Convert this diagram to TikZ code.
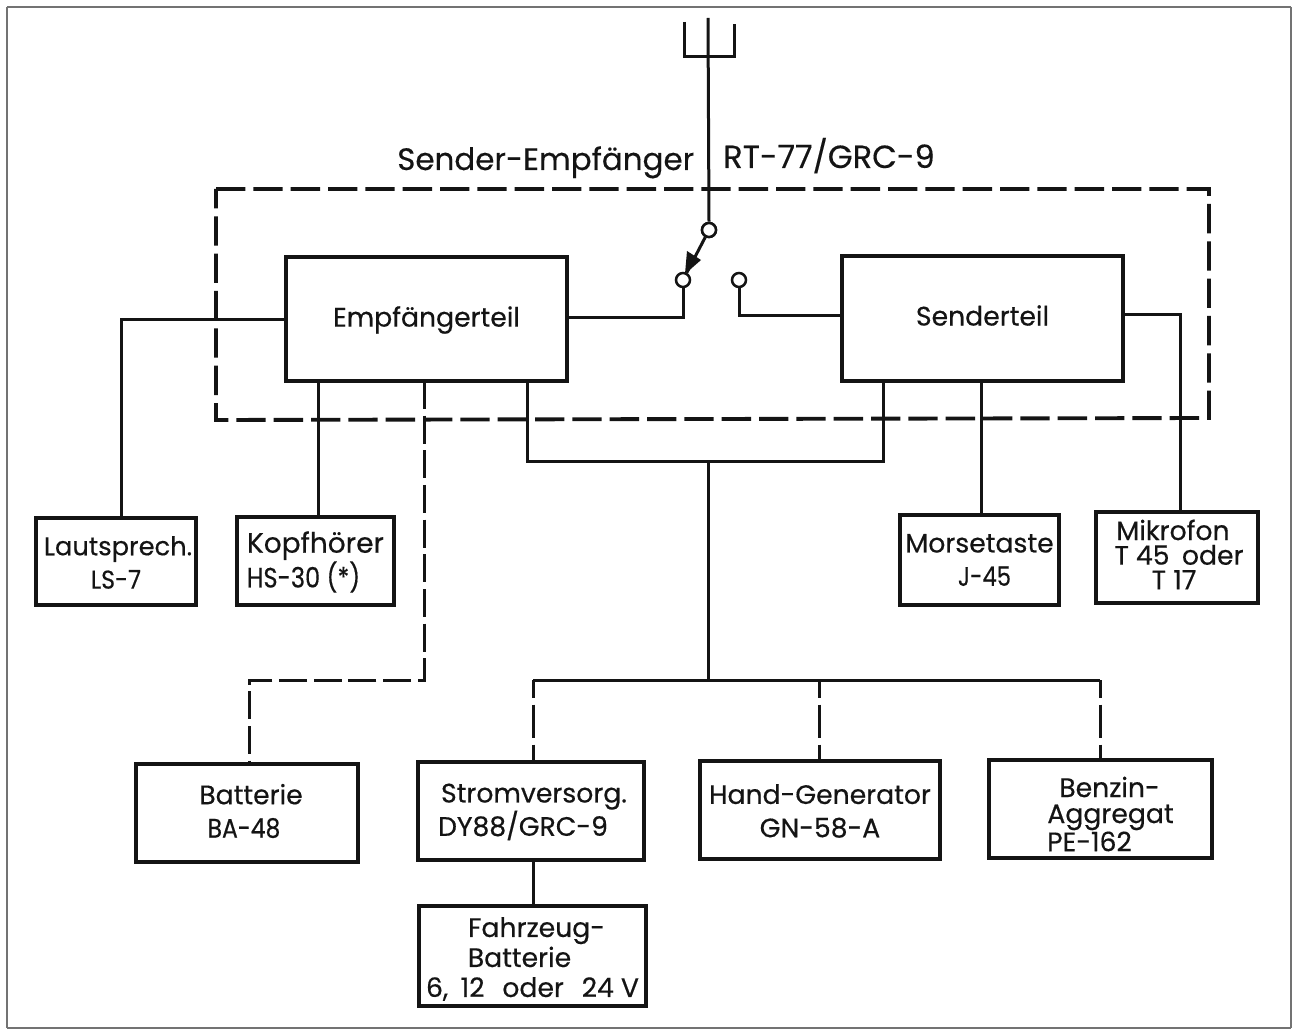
\documentclass[tikz,border=0pt]{standalone}
\usepackage{fontspec}
\setmainfont{Poppins}[FakeBold=0.4]
\definecolor{ink}{HTML}{141414}
\tikzset{
  px/.style={x=0.75pt,y=-0.75pt},
  wire/.style={draw=ink,line width=2.25pt},
  thinwire/.style={draw=ink,line width=2.25pt},
  dashwire/.style={draw=ink,line width=2.25pt,dash pattern=on 21pt off 5pt},
  stubdash/.style={draw=ink,line width=2.25pt,dash pattern=on 13.5pt off 5pt on 25pt off 5pt on 40pt off 0pt},
  bigdash/.style={draw=ink,line width=2.9pt,dash pattern=on 22pt off 6pt},
  box/.style={draw=ink,line width=3.1pt,fill=white,inner sep=0pt},
  lbl/.style={inner sep=0pt,text=ink},
  boxtext/.style={lbl,align=center,font=\fontsize{20}{25}\selectfont},
  term/.style={circle,draw=ink,line width=1.9pt,fill=white,minimum size=10.5pt,inner sep=0pt},
}
% name x1 y1 x2 y2 dy text-options text
\newcommand{\bx}[8]{%
  \pgfmathsetmacro{\bw}{(#4-#2)*0.75}\pgfmathsetmacro{\bh}{(#5-#3)*0.75}
  \node[box,minimum width=\bw pt,minimum height=\bh pt] (#1) at ({(#2+#4)/2},{(#3+#5)/2}) {};
  \node[boxtext,#7] (#1-t) at ({(#2+#4)/2},{(#3+#5)/2+#6}) {#8};}
% shift one line of text by #1 reference pixels
\newcommand{\sh}[2]{\mbox{\kern\dimexpr #1pt*3/2\relax #2}}
% narrow one line of text
\newcommand{\nar}[2]{\scalebox{#1}[1]{#2}}
\begin{document}
\begin{tikzpicture}[px]
\useasboundingbox (0,0) rectangle (1293,1030);
\fill[white] (0,0) rectangle (1293,1030);
\draw[draw=black!55,line width=1.3pt] (7,7) -- (1291,7) (7,7) -- (7,1028) (1291,7) -- (1291,1028) (7,1028) -- (1291,1028);

% dashed enclosure
\coordinate (fa) at (216,189); \coordinate (fb) at (1209,189);
\coordinate (fc) at (1209,418); \coordinate (fd) at (216,420);
\draw[bigdash] (fa) -- (fb) -- (fc) -- (fd) -- cycle;

\node[lbl,font=\fontsize{23.2}{28}\selectfont,anchor=base west] (title1) at (397,170) {Sender-Empfänger};
\node[lbl,font=\fontsize{24}{28}\selectfont,anchor=base west] (title2) at (723,168) {RT-77/GRC-9};

% boxes
\bx{emp}{286}{257}{567}{381}{1}{}{Empfängerteil}
\bx{sen}{842}{256}{1123}{381}{-3}{}{Senderteil}
\bx{ls}{36}{518}{196}{605}{1}{font=\fontsize{19.3}{25}\selectfont}{\sh{2}{Lautsprech.}\\\nar{0.92}{LS-7}}
\bx{hs}{237}{517}{394}{605}{1}{font=\fontsize{21}{25}\selectfont}{Kopfhörer\\\sh{-12}{\nar{0.86}{HS-30 (*)}}}
\bx{mt}{900}{515}{1059}{605}{0}{}{Morsetaste\\\sh{5}{\nar{0.85}{J-45}}}
\bx{mk}{1096}{512}{1258}{603}{-3}{font=\fontsize{20}{18.5}\selectfont}{\sh{-4}{Mikrofon}\\\sh{2}{T 45\hspace{4pt} oder}\\\sh{-3}{T 17}}
\bx{ba}{136}{764}{358}{862}{-2}{}{\sh{4}{Batterie}\\\sh{-3}{\nar{0.88}{BA-48}}}
\bx{st}{418}{762}{644}{860}{1}{}{\sh{3}{Stromversorg.}\\\sh{-8}{DY88/GRC-9}}
\bx{hg}{700}{761}{940}{859}{1}{}{Hand-Generator\\GN-58-A}
\bx{bz}{989}{760}{1212}{858}{5}{font=\fontsize{20}{19.5}\selectfont}{\sh{9}{Benzin-}\\\sh{10}{Aggregat}\\\sh{-11}{PE-162}}
\bx{fz}{419}{906}{646}{1006}{3}{font=\fontsize{20}{22.5}\selectfont}{\sh{4}{Fahrzeug-}\\\sh{-13}{Batterie}\\6,\hspace{4pt} 12\hspace{8pt} oder\hspace{8pt} 24 V}

% terminals
\node[term] (t1) at (709,230) {};
\node[term] (t2) at (683,280) {};
\node[term] (t3) at (739,280) {};

% antenna
\coordinate (atop) at (708,18); \coordinate (abar) at (708,57);
\coordinate (al) at (684,22); \coordinate (ar) at (734,24);
\draw[wire] (atop) -- (t1.north);
\draw[wire] (al) |- (abar) -| (ar);

% switch arm
\draw[wire] (t1) -- (t2);
\fill[ink] (685,274) -- (687,251) -- (701,260) -- cycle;
\node[term] at (t1) {};

% receiver connections
\coordinate (j1) at (121,320);
\draw[wire] (emp.west |- j1) -- (j1) -- (ls.north -| j1);
\coordinate (j2) at (318,381);
\draw[thinwire] (j2) -- (hs.north -| j2);
\draw[wire] (emp.east |- 0,318) -- (683,318) -- (t2.south);
\draw[wire] (t3.south) -- (739,316) -- (sen.west |- 0,316);

% dashed battery line
\coordinate (d1) at (424,381); \coordinate (d2) at (424,680); \coordinate (d3) at (249,680);
\draw[dashwire] (d1) -- (d2) -- (d3) -- (ba.north -| d3);

% supply bus
\coordinate (b1) at (527,381); \coordinate (b2) at (527,462); \coordinate (b3) at (883,462); \coordinate (b4) at (883,381);
\coordinate (bm) at (708,462); \coordinate (bn) at (708,680);
\draw[thinwire] (b1) -- (b2) -- (b3) -- (b4);
\draw[thinwire] (bm) -- (bn);
\coordinate (h1) at (533,680); \coordinate (h2) at (819,680); \coordinate (h3) at (1100,680);
\draw[thinwire] (h1) -- (h3);
\draw[stubdash] (h1) -- (st.north -| h1);
\draw[stubdash] (h2) -- (hg.north -| h2);
\draw[stubdash] (h3) -- (bz.north -| h3);
\coordinate (v1) at (533,860);
\draw[thinwire] (v1) -- (fz.north -| v1);

% transmitter connections
\coordinate (m1) at (981,381);
\draw[wire] (m1) -- (mt.north -| m1);
\coordinate (k1) at (1180,315);
\draw[wire] (sen.east |- k1) -- (k1) -- (mk.north -| k1);
\end{tikzpicture}
\end{document}
